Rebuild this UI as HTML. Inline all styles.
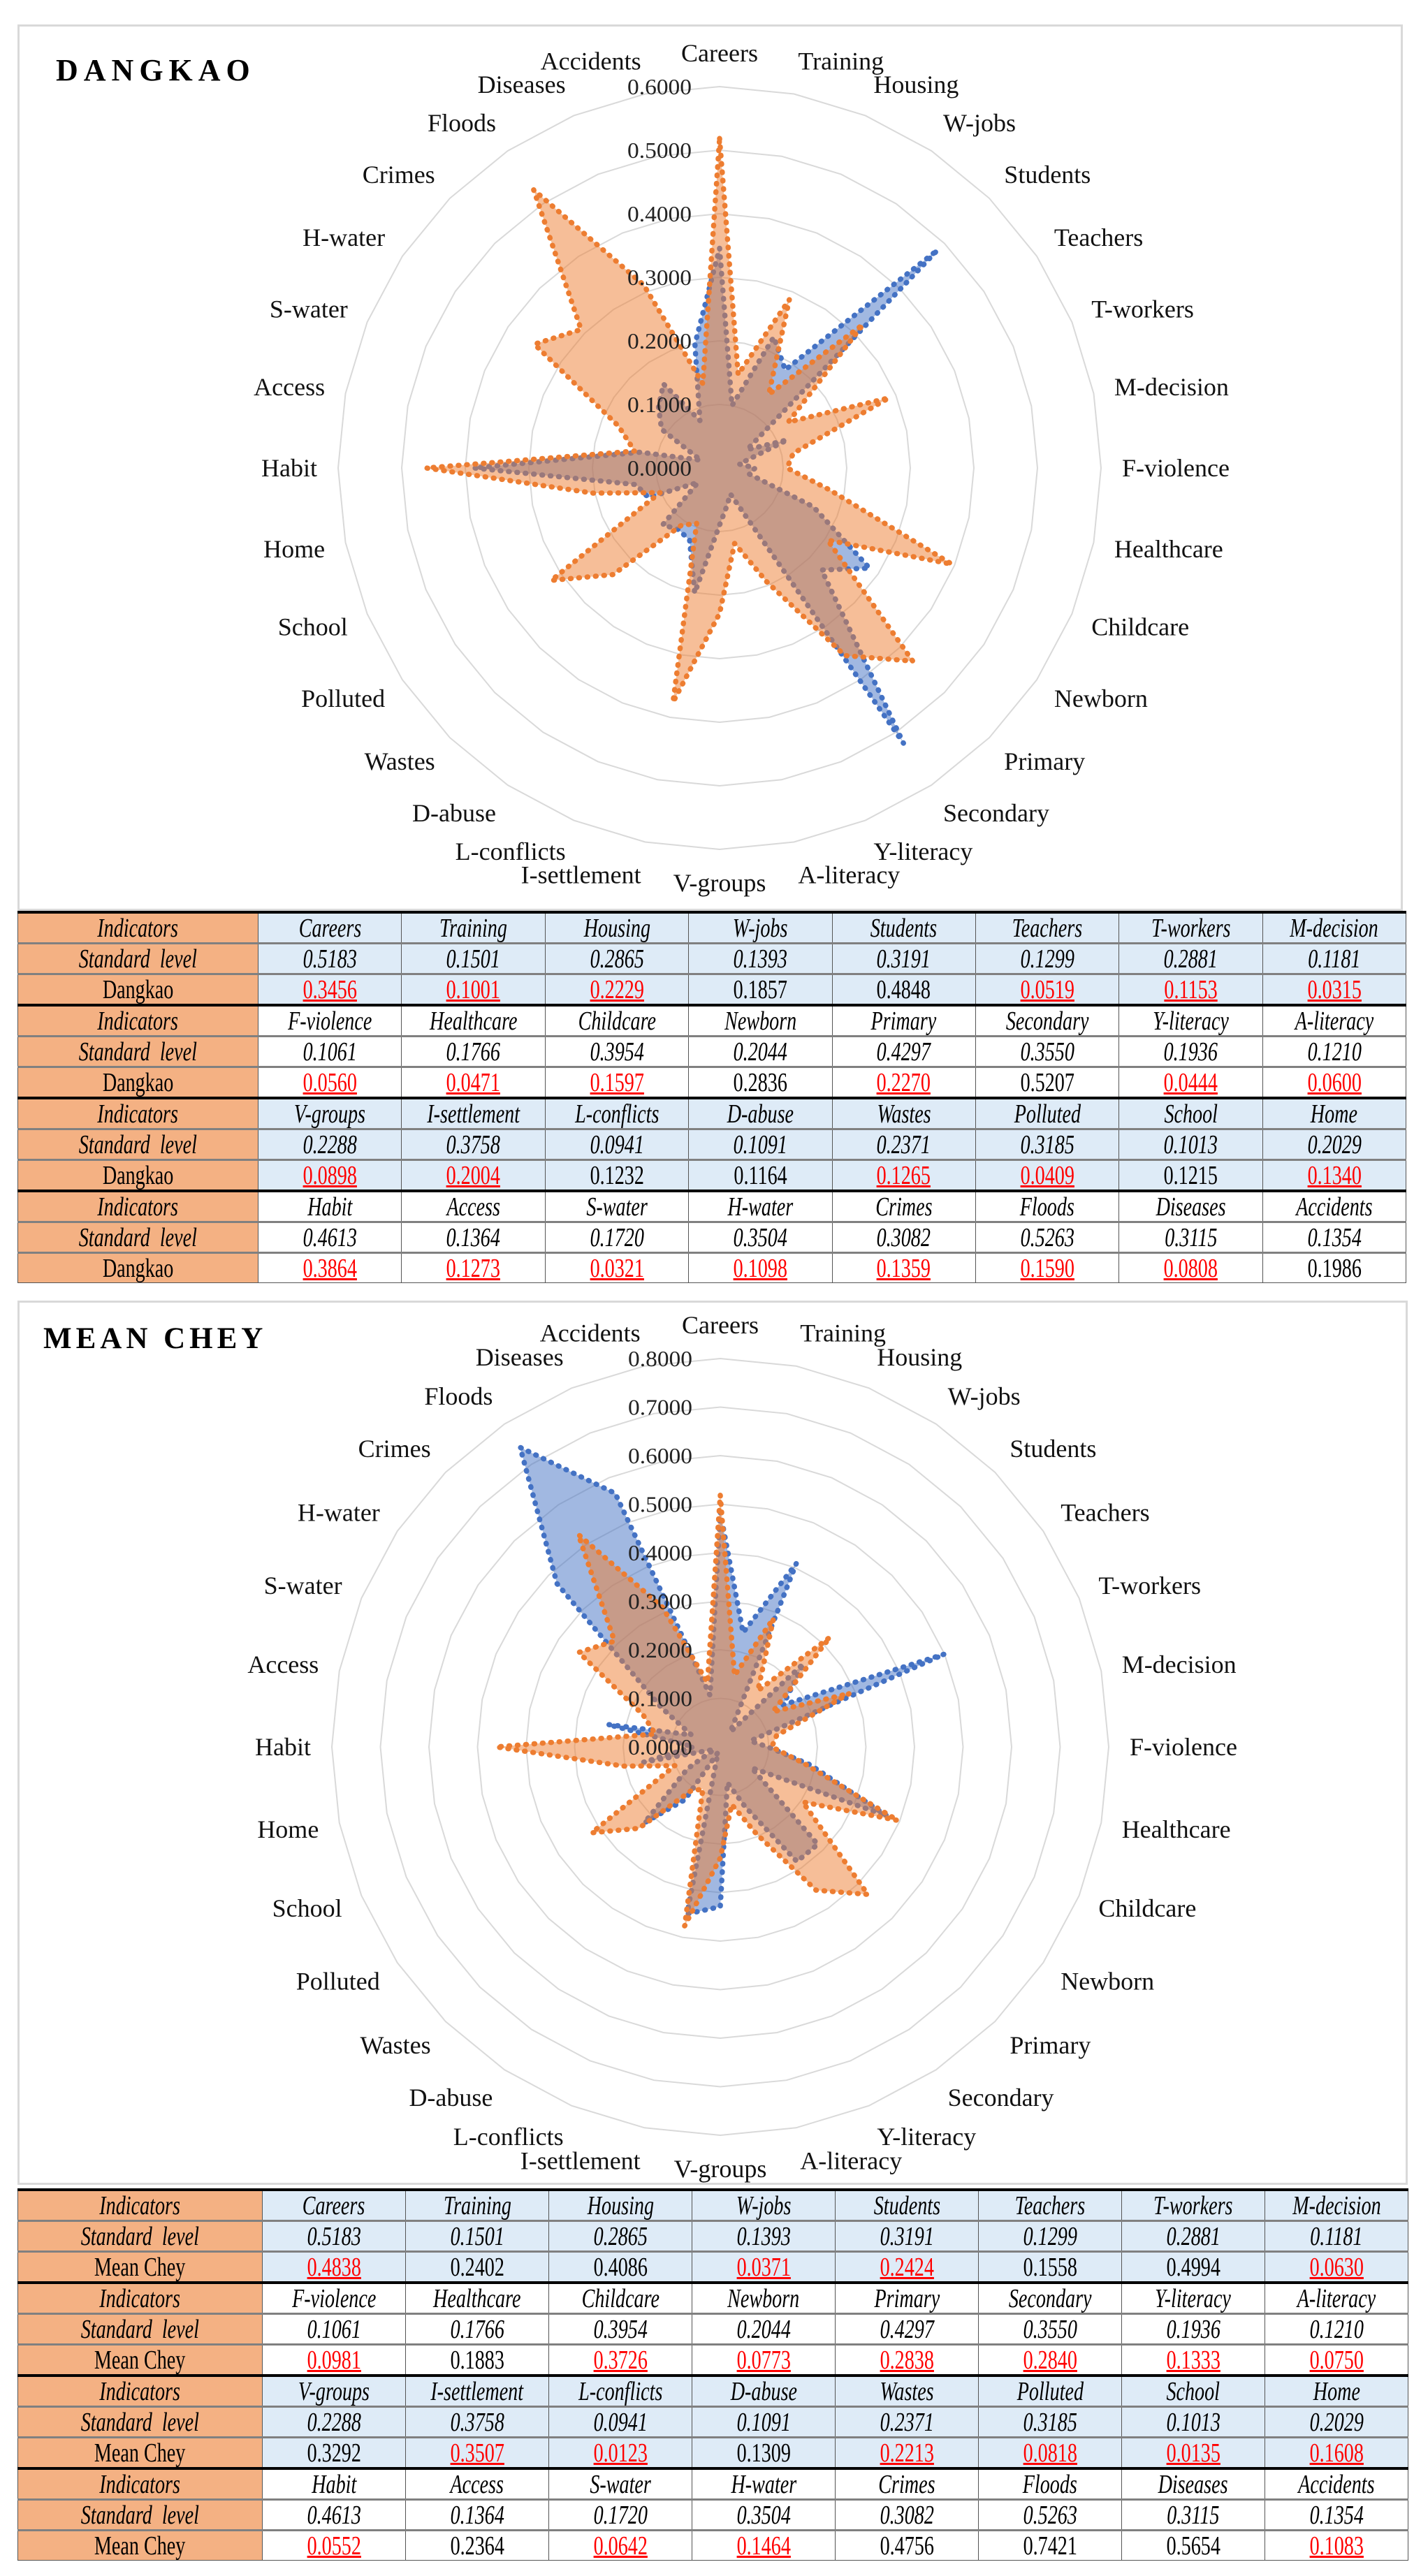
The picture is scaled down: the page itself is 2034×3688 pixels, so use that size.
<!DOCTYPE html>
<html><head><meta charset="utf-8">
<style>
html,body{margin:0;padding:0;background:#fff;}
#page{position:relative;width:2034px;height:3688px;overflow:hidden;font-family:"Liberation Serif",serif;}
.frame{position:absolute;border:3px solid #d9d9d9;box-sizing:border-box;background:#fff;}
svg{position:absolute;left:0;top:0;}
table{position:absolute;border-collapse:collapse;table-layout:fixed;}
td{border:1.5px solid #555;height:41px;padding:0;text-align:center;vertical-align:middle;font-size:38px;line-height:40px;overflow:hidden;white-space:nowrap;}
td.h{background:#F4B183;}
td span{display:inline-block;transform:scaleX(0.74);}
td.it{font-style:italic;}
td.red span{color:#ff0000;text-decoration:underline;text-decoration-color:#ff0000;text-decoration-thickness:3px;}
tr.blk td{border-top:4px solid #000;}
tr.sub td{border-top:3px solid #808080;}
</style></head>
<body>
<div id="page">
<div class="frame" style="left:25px;top:35px;width:1983px;height:1269px;"></div>
<div class="frame" style="left:25px;top:1862px;width:1990px;height:1266px;"></div>
<svg id="chart" width="2034" height="3688" viewBox="0 0 2034 3688">
<text x="80" y="115" font-family="Liberation Serif, serif" font-weight="bold" font-size="44" letter-spacing="8" fill="#000">DANGKAO</text>
<text x="62" y="1930" font-family="Liberation Serif, serif" font-weight="bold" font-size="43" letter-spacing="6" fill="#000">MEAN CHEY</text>
</svg>
<table id="t1" style="left:25px;top:1304px;width:1988px;"></table>
<table id="t2" style="left:25px;top:3133px;width:1991px;"></table>
</div>
<script>
const categories = ["Careers","Training","Housing","W-jobs","Students","Teachers","T-workers","M-decision","F-violence","Healthcare","Childcare","Newborn","Primary","Secondary","Y-literacy","A-literacy","V-groups","I-settlement","L-conflicts","D-abuse","Wastes","Polluted","School","Home","Habit","Access","S-water","H-water","Crimes","Floods","Diseases","Accidents"];
const standardLevel = [0.5183,0.1501,0.2865,0.1393,0.3191,0.1299,0.2881,0.1181,0.1061,0.1766,0.3954,0.2044,0.4297,0.3550,0.1936,0.1210,0.2288,0.3758,0.0941,0.1091,0.2371,0.3185,0.1013,0.2029,0.4613,0.1364,0.1720,0.3504,0.3082,0.5263,0.3115,0.1354];
const dangkaoValues = [0.3456,0.1001,0.2229,0.1857,0.4848,0.0519,0.1153,0.0315,0.0560,0.0471,0.1597,0.2836,0.2270,0.5207,0.0444,0.0600,0.0898,0.2004,0.1232,0.1164,0.1265,0.0409,0.1215,0.1340,0.3864,0.1273,0.0321,0.1098,0.1359,0.1590,0.0808,0.1986];
const meanCheyValues = [0.4838,0.2402,0.4086,0.0371,0.2424,0.1558,0.4994,0.0630,0.0981,0.1883,0.3726,0.0773,0.2838,0.2840,0.1333,0.0750,0.3292,0.3507,0.0123,0.1309,0.2213,0.0818,0.0135,0.1608,0.0552,0.2364,0.0642,0.1464,0.4756,0.7421,0.5654,0.1083];
const dangkaoTicks = ["0.0000","0.1000","0.2000","0.3000","0.4000","0.5000","0.6000"];
const meanCheyTicks = ["0.0000","0.1000","0.2000","0.3000","0.4000","0.5000","0.6000","0.7000","0.8000"];

const NS = "http://www.w3.org/2000/svg";
const svg = document.getElementById('chart');

function drawRadar(prefix, cx, cy, R, maxV, ticks, std, dist) {
  const n = categories.length;
  const g = document.createElementNS(NS, 'g');
  
  
  svg.appendChild(g);
  const ang = i => i * 2 * Math.PI / n;
  const pt = (i, v) => {
    const r = v / maxV * R;
    return [cx + r * Math.sin(ang(i)), cy - r * Math.cos(ang(i))];
  };
  for (let k = 1; k < ticks.length; k++) {
    const v = parseFloat(ticks[k]);
    const pts = categories.map((c, i) => pt(i, v).map(p => p.toFixed(1)).join(',')).join(' ');
    const ring = document.createElementNS(NS, 'polygon');
    ring.setAttribute('points', pts);
    ring.setAttribute('fill', 'none');
    ring.setAttribute('stroke', '#d9d9d9');
    ring.setAttribute('stroke-width', '2');
    
    
    g.appendChild(ring);
  }
  const series = [[dist, '#4472C4', 'rgba(68,114,196,0.5)', 'district-series'], [std, '#ED7D31', 'rgba(237,125,49,0.5)', 'standard-series']];
  series.forEach(s => {
    const pts = s[0].map((v, i) => pt(i, v).map(p => p.toFixed(1)).join(',')).join(' ');
    const poly = document.createElementNS(NS, 'polygon');
    poly.setAttribute('points', pts);
    poly.setAttribute('fill', s[2]);
    poly.setAttribute('stroke', s[1]);
    poly.setAttribute('stroke-width', '7.5');
    poly.setAttribute('stroke-dasharray', '1 11');
    poly.setAttribute('stroke-linecap', 'round');
    poly.setAttribute('stroke-linejoin', 'round');
    
    
    g.appendChild(poly);
  });
  ticks.forEach(t => {
    const v = parseFloat(t);
    const tx = document.createElementNS(NS, 'text');
    tx.setAttribute('x', cx - 40);
    tx.setAttribute('y', cy - v / maxV * R);
    tx.setAttribute('text-anchor', 'end');
    tx.setAttribute('dominant-baseline', 'central');
    tx.setAttribute('font-size', '32');
    tx.setAttribute('textLength', '92');
    tx.setAttribute('lengthAdjust', 'spacingAndGlyphs');
    tx.setAttribute('fill', '#222');
    tx.textContent = t;
    
    
    g.appendChild(tx);
  });
  const LR = R + 30;
  categories.forEach((c, i) => {
    const s = Math.sin(ang(i)), co = Math.cos(ang(i));
    const tx = document.createElementNS(NS, 'text');
    tx.setAttribute('x', (cx + LR * s).toFixed(1));
    tx.setAttribute('y', (cy - LR * co - 18 * co).toFixed(1));
    tx.setAttribute('text-anchor', Math.abs(s) < 0.05 ? 'middle' : (s > 0 ? 'start' : 'end'));
    tx.setAttribute('dominant-baseline', 'central');
    tx.setAttribute('font-size', '36');
    tx.setAttribute('fill', '#111');
    tx.textContent = c;
    
    
    g.appendChild(tx);
  });
}
drawRadar('dangkao', 1030, 670, 546, 0.6, dangkaoTicks, standardLevel, dangkaoValues);
drawRadar('mean-chey', 1031, 2501, 556, 0.8, meanCheyTicks, standardLevel, meanCheyValues);

function buildTable(id, name, vals, firstW, prefix) {
  const tb = document.getElementById(id);
  const cg = document.createElement('colgroup');
  const c0 = document.createElement('col'); c0.style.width = firstW + 'px'; cg.appendChild(c0);
  for (let j = 0; j < 8; j++) { const c = document.createElement('col'); cg.appendChild(c); }
  tb.appendChild(cg);
  for (let b = 0; b < 4; b++) {
    const bg = b % 2 === 0 ? '#DEEBF7' : '#ffffff';
    for (let r = 0; r < 3; r++) {
      const tr = document.createElement('tr');
      tr.className = r === 0 ? 'blk' : 'sub';
      const h = document.createElement('td');
      h.className = 'h' + (r < 2 ? ' it' : '');
      h.innerHTML = '<span>' + (r === 0 ? 'Indicators' : r === 1 ? 'Standard&nbsp; level' : name) + '</span>';
      
      
      tr.appendChild(h);
      for (let j = 0; j < 8; j++) {
        const k = b * 8 + j;
        const td = document.createElement('td');
        td.style.background = bg;
        let txt;
        if (r === 0) { txt = categories[k]; td.className = 'it'; }
        else if (r === 1) { txt = standardLevel[k].toFixed(4); td.className = 'it'; }
        else { txt = vals[k].toFixed(4); if (vals[k] < standardLevel[k]) td.className = 'red'; }
        td.innerHTML = '<span>' + txt + '</span>';
        
        
        tr.appendChild(td);
      }
      tb.appendChild(tr);
    }
  }
}
buildTable('t1', 'Dangkao', dangkaoValues, 344, 'dangkao-table');
buildTable('t2', 'Mean Chey', meanCheyValues, 350, 'mean-chey-table');
</script>
</body></html>
